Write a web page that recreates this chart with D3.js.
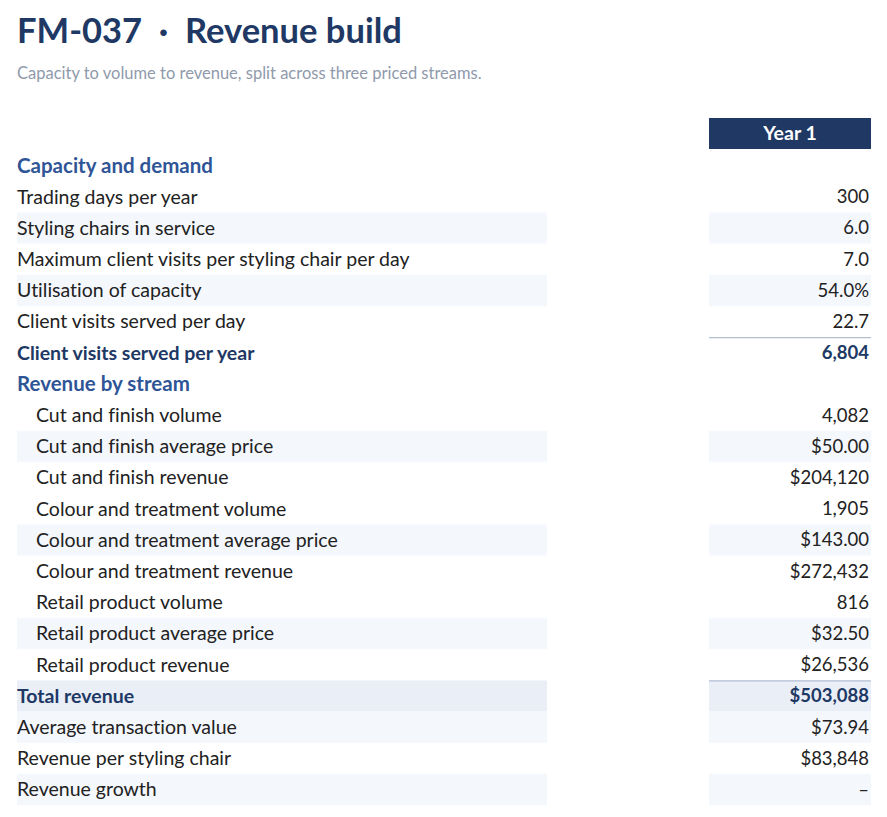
<!DOCTYPE html>
<html><head><meta charset="utf-8">
<script src="https://cdn.jsdelivr.net/npm/d3@7/dist/d3.min.js"></script>
<style>
html,body{margin:0;padding:0;background:#fff;}
svg{display:block;font-family:Lato,"Open Sans",sans-serif;font-variant-ligatures:none;}
</style></head>
<body><svg id="c" width="887" height="817"></svg>
<script>
const title = "FM-037  ·  Revenue build";
const subtitle = "Capacity to volume to revenue, split across three priced streams.";
const columns = ["Year 1"];
const labels = [
  "Capacity and demand",
  "Trading days per year",
  "Styling chairs in service",
  "Maximum client visits per styling chair per day",
  "Utilisation of capacity",
  "Client visits served per day",
  "Client visits served per year",
  "Revenue by stream",
  "Cut and finish volume",
  "Cut and finish average price",
  "Cut and finish revenue",
  "Colour and treatment volume",
  "Colour and treatment average price",
  "Colour and treatment revenue",
  "Retail product volume",
  "Retail product average price",
  "Retail product revenue",
  "Total revenue",
  "Average transaction value",
  "Revenue per styling chair",
  "Revenue growth"
];
const values = [
  "", "300", "6.0", "7.0", "54.0%", "22.7", "6,804",
  "", "4,082", "$50.00", "$204,120", "1,905", "$143.00", "$272,432",
  "816", "$32.50", "$26,536", "$503,088", "$73.94", "$83,848", "–"
];
// row kinds: section, item, indent, subtotal, total
const kinds = [
  "section","item","item","item","item","item","subtotal",
  "section","indent","indent","indent","indent","indent","indent",
  "indent","indent","indent","total","item","item","item"
];
const striped = [
  false,false,true,false,true,false,false,
  false,false,true,false,false,true,false,
  false,true,false,false,true,false,true
];

const svg = d3.select("#c");
const C = {navy:"#203864", blue:"#2f5597", text:"#222222", sub:"#8f9aab",
           stripe:"#f4f7fc", total:"#e9eef7", rule:"#b3bfd3"};

svg.append("text").attr("x",17).attr("y",43)
  .attr("font-size",34.5).attr("font-weight",700).attr("fill",C.navy)
  .style("white-space","pre").text(title);
svg.append("text").attr("x",17).attr("y",79)
  .attr("font-size",16.5).attr("fill",C.sub).text(subtitle);

const y = d3.scaleBand().domain(d3.range(labels.length)).range([150, 150 + 31.2*labels.length]).padding(0);
const xLab = [17, 547], xVal = [709, 871];
const x = d3.scaleBand().domain(columns).range(xVal).padding(0);

// header
const hdr = svg.append("g");
hdr.selectAll("rect").data(columns).join("rect")
  .attr("x", d=>x(d)).attr("y",118).attr("width",x.bandwidth()).attr("height",31)
  .attr("fill",C.navy);
hdr.selectAll("text").data(columns).join("text")
  .attr("x", d=>x(d)+x.bandwidth()/2).attr("y",118+15.5).attr("dy","0.35em")
  .attr("text-anchor","middle").attr("font-size",19.5).attr("font-weight",700)
  .attr("fill","#fff").text(d=>d);

const rows = svg.append("g").selectAll("g").data(labels.map((l,i)=>({l,v:values[i],k:kinds[i],s:striped[i],i})))
  .join("g").attr("transform",d=>`translate(0,${y(d.i)})`);

rows.filter(d=>d.s || d.k==="total").append("rect")
  .attr("x",xLab[0]).attr("width",xLab[1]-xLab[0]).attr("height",y.bandwidth())
  .attr("fill",d=>d.k==="total"?C.total:C.stripe);
rows.filter(d=>d.s || d.k==="total").append("rect")
  .attr("x",x(columns[0])).attr("width",x.bandwidth()).attr("height",y.bandwidth())
  .attr("fill",d=>d.k==="total"?C.total:C.stripe);
rows.filter(d=>d.k==="subtotal"||d.k==="total").append("line")
  .attr("x1",x(columns[0])).attr("x2",x(columns[0])+x.bandwidth())
  .attr("y1",0.5).attr("y2",0.5).attr("stroke",C.rule).attr("stroke-width",1.3);

const bold = k => k==="section"||k==="subtotal"||k==="total";
const lsize = k => k==="section"?20.5:19.5;
rows.append("text")
  .attr("x",d=>d.k==="indent"?36:17).attr("y",y.bandwidth()/2).attr("dy","0.35em")
  .attr("font-size",d=>lsize(d.k)).attr("font-weight",d=>bold(d.k)?700:400)
  .attr("fill",d=>d.k==="section"?C.blue:(bold(d.k)?C.navy:C.text))
  .text(d=>d.l);
rows.append("text")
  .attr("x",x(columns[0])+x.bandwidth()-2).attr("y",y.bandwidth()/2).attr("dy","0.35em")
  .attr("text-anchor","end")
  .attr("font-size",18.5).attr("font-weight",d=>bold(d.k)?700:400)
  .attr("fill",d=>bold(d.k)?C.navy:C.text)
  .text(d=>d.v);
</script></body></html>
